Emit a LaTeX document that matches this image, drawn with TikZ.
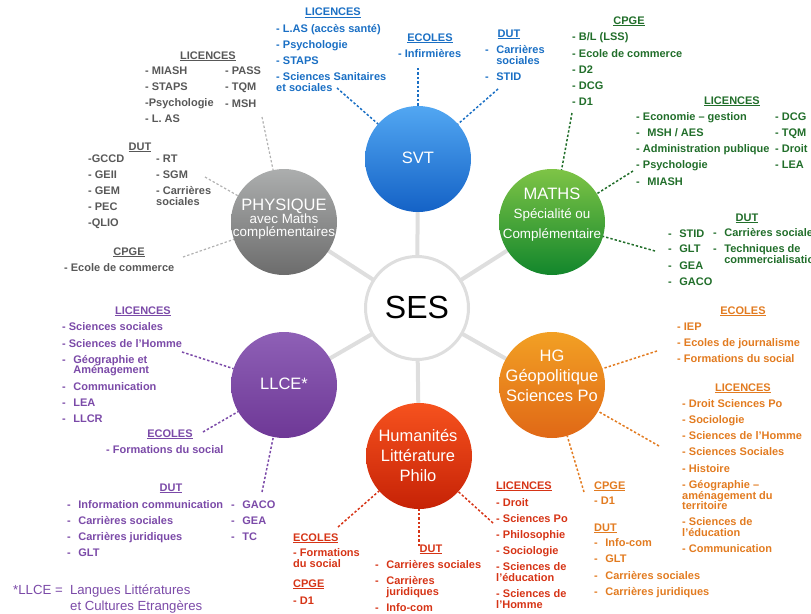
\documentclass[tikz,border=0pt]{standalone}
\usepackage{fontspec}
\setmainfont{Liberation Sans}
\definecolor{cgray}{RGB}{88,88,88}
\definecolor{cgrayline}{RGB}{178,178,178}
\definecolor{cblue}{RGB}{26,111,196}
\definecolor{cgreen}{RGB}{33,110,42}
\definecolor{cpurple}{RGB}{123,74,168}
\definecolor{corange}{RGB}{226,123,32}
\definecolor{cred}{RGB}{214,52,22}
\definecolor{spokegray}{RGB}{222,222,222}
\newcommand{\dd}{-\hspace{7.5pt}}
\newcommand{\itemcol}[4]{\foreach \yy/\lbl [count=\i] in {#4} {\node[item,text=#3] (#1-\i) at (#2,\yy) {\lbl};}}
\begin{document}
\begin{tikzpicture}[x=1pt,y=-1pt,
  item/.style={anchor=base west, inner sep=0pt, font=\fontsize{11}{12}\selectfont\bfseries},
  head/.style={anchor=base, inner sep=0pt, font=\fontsize{11}{12}\selectfont\bfseries},
  conn/.style={line width=1.5pt, dash pattern=on 2.4pt off 2pt},
  spoke/.style={line width=4pt, draw=spokegray},
  bub/.style={circle, minimum size=106pt, inner sep=0pt, outer sep=0pt},
  ctext/.style={anchor=base, text=white, inner sep=0pt, font=\fontsize{16.5}{18}\selectfont},
  csub/.style={anchor=base, text=white, inner sep=0pt, font=\fontsize{13.4}{14}\selectfont},
  foot/.style={anchor=base west, inner sep=0pt, text=cpurple, font=\fontsize{13.2}{14}\selectfont}]
\useasboundingbox (0,0) rectangle (811,613);
% centres
\coordinate (cses) at (417,308);
\coordinate (csvt) at (418,159);
\coordinate (cphys) at (284,222);
\coordinate (cmaths) at (552,222);
\coordinate (cllce) at (284,385);
\coordinate (chg) at (552,385);
\coordinate (chum) at (419,456);
% spokes
\foreach \c in {csvt,cphys,cmaths,cllce,chg,chum} {\draw[spoke] (cses) -- (\c);}
% circles
\node[bub, fill=white, draw=spokegray, line width=3pt, minimum size=103pt] (ses) at (cses) {};
\node[bub, top color={rgb,255:red,82;green,167;blue,242}, bottom color={rgb,255:red,20;green,98;blue,198}] (svt) at (csvt) {};
\node[bub, top color={rgb,255:red,172;green,174;blue,174}, bottom color={rgb,255:red,108;green,108;blue,108}] (phys) at (cphys) {};
\node[bub, top color={rgb,255:red,126;green,196;blue,70}, bottom color={rgb,255:red,18;green,134;blue,44}] (maths) at (cmaths) {};
\node[bub, top color={rgb,255:red,142;green,96;blue,182}, bottom color={rgb,255:red,110;green,56;blue,150}] (llce) at (cllce) {};
\node[bub, top color={rgb,255:red,242;green,160;blue,36}, bottom color={rgb,255:red,224;green,104;blue,22}] (hg) at (chg) {};
\node[bub, top color={rgb,255:red,246;green,82;blue,30}, bottom color={rgb,255:red,198;green,34;blue,6}] (hum) at (chum) {};
% circle texts
\node[anchor=base, inner sep=0pt, font=\fontsize{32}{36}\selectfont] (sesT) at (417,318) {SES};
\node[ctext] (svtT) at (418,163.5) {SVT};
\node[ctext] (physT1) at (284,210) {PHYSIQUE};
\node[csub] (physT2) at (284,223) {avec Maths};
\node[csub] (physT3) at (284,236) {complémentaires};
\node[ctext] (mathsT1) at (552,199) {MATHS};
\node[csub] (mathsT2) at (552,218.5) {Spécialité ou};
\node[csub] (mathsT3) at (552,238) {Complémentaire};
\node[ctext] (llceT) at (284,389) {LLCE*};
\node[ctext] (hgT1) at (552,361) {HG};
\node[ctext] (hgT2) at (552,381) {Géopolitique};
\node[ctext] (hgT3) at (552,401) {Sciences Po};
\node[ctext] (humT1) at (418,441) {Humanités};
\node[ctext] (humT2) at (418,461) {Littérature};
\node[ctext] (humT3) at (418,481) {Philo};
% ---- PHYSIQUE (gray)
\node[head,text=cgray] (gLh) at (208,59) {\underline{LICENCES}};
\itemcol{gLa}{145}{cgray}{74/- MIASH, 90/- STAPS, 106/-Psychologie, 122/- L. AS}
\itemcol{gLb}{225}{cgray}{74/- PASS, 90/- TQM, 107/- MSH}
\node[head,text=cgray] (gDh) at (140,150) {\underline{DUT}};
\itemcol{gDa}{88}{cgray}{162/-GCCD, 178/- GEII, 194/- GEM, 210/- PEC, 226/-QLIO}
\itemcol{gDb}{156}{cgray}{162/- RT, 178/- SGM, 194/- Carrières, 205/sociales}
\node[head,text=cgray] (gCh) at (129,255) {\underline{CPGE}};
\itemcol{gCa}{64}{cgray}{271/- Ecole de commerce}
\coordinate (gLe) at (262,117);
\coordinate (gDe) at (205,177);
\coordinate (gCe) at (183,257);
\foreach \e in {gLe,gDe,gCe} {\draw[conn,cgrayline,line width=1.2pt] (\e) -- (phys);}
% ---- SVT (blue)
\node[head,text=cblue] (bLh) at (333,16) {\underline{LICENCES}};
\itemcol{bL}{276}{cblue}{32/- L.AS (accès santé), 48/- Psychologie, 64/- STAPS, 80/- Sciences Sanitaires, 91/et sociales}
\node[head,text=cblue] (bEh) at (430,41) {\underline{ECOLES}};
\itemcol{bE}{398}{cblue}{57/- Infirmières}
\node[head,text=cblue] (bDh) at (509,37) {\underline{DUT}};
\itemcol{bD}{485}{cblue}{53/\dd Carrières, 64/\phantom{\dd}sociales, 80/\dd STID}
\coordinate (bLe) at (337,88);
\coordinate (bEe) at (418,68);
\coordinate (bDe) at (498,89);
\foreach \e in {bLe,bEe,bDe} {\draw[conn,cblue] (\e) -- (svt);}
% ---- MATHS (green)
\node[head,text=cgreen] (mCh) at (629,24) {\underline{CPGE}};
\itemcol{mC}{572}{cgreen}{40/{- B/L (LSS)}, 57/- Ecole de commerce, 73/- D2, 89/- DCG, 105/- D1}
\node[head,text=cgreen] (mLh) at (732,104) {\underline{LICENCES}};
\itemcol{mLa}{636}{cgreen}{120/- Economie – gestion, 136/{\dd MSH / AES}, 152/- Administration publique, 168/- Psychologie, 185/\dd MIASH}
\itemcol{mLb}{775}{cgreen}{120/- DCG, 136/- TQM, 152/- Droit, 168/- LEA}
\node[head,text=cgreen] (mDh) at (747,221) {\underline{DUT}};
\itemcol{mDa}{668}{cgreen}{237/\dd STID, 252/\dd GLT, 269/\dd GEA, 285/\dd GACO}
\itemcol{mDb}{713}{cgreen}{236/\dd Carrières sociales, 252/\dd Techniques de, 263/\phantom{\dd}commercialisation}
\coordinate (mCe) at (572,113);
\coordinate (mLe) at (633,171);
\coordinate (mDe) at (655,251);
\foreach \e in {mCe,mLe,mDe} {\draw[conn,cgreen] (\e) -- (maths);}
% ---- LLCE (purple)
\node[head,text=cpurple] (pLh) at (143,314) {\underline{LICENCES}};
\itemcol{pL}{62}{cpurple}{330/- Sciences sociales, 347/- Sciences de l’Homme, 363/\dd Géographie et, 373/\phantom{\dd}Aménagement, 390/\dd Communication, 406/\dd LEA, 422/\dd LLCR}
\node[head,text=cpurple] (pEh) at (170,437) {\underline{ECOLES}};
\itemcol{pE}{106}{cpurple}{453/- Formations du social}
\node[head,text=cpurple] (pDh) at (171,491) {\underline{DUT}};
\itemcol{pDa}{67}{cpurple}{508/\dd Information communication, 524/\dd Carrières sociales, 540/\dd Carrières juridiques, 556/\dd GLT}
\itemcol{pDb}{231}{cpurple}{508/\dd GACO, 524/\dd GEA, 540/\dd TC}
\coordinate (pLe) at (182,352);
\coordinate (pEe) at (203,432);
\coordinate (pDe) at (262,492);
\foreach \e in {pLe,pEe,pDe} {\draw[conn,cpurple] (\e) -- (llce);}
\node[foot] (fn1) at (13,594) {*LLCE =\ \ Langues Littératures};
\node[foot] (fn2) at (70,610) {et Cultures Etrangères};
% ---- Humanites (red)
\itemcol{rE}{293}{cred}{541/\underline{ECOLES}, 556/- Formations, 567/du social, 587/\underline{CPGE}, 604/- D1}
\node[head,text=cred] (rDh) at (431,552) {\underline{DUT}};
\itemcol{rD}{375}{cred}{568/\dd Carrières sociales, 584/\dd Carrières, 595/\phantom{\dd}juridiques, 611/\dd Info-com}
\itemcol{rL}{496}{cred}{489/\underline{LICENCES}, 506/- Droit, 522/- Sciences Po, 538/- Philosophie, 554/- Sociologie, 570/- Sciences de, 581/l’éducation, 597/- Sciences de, 608/l’Homme}
\coordinate (rEe) at (338,527);
\coordinate (rDe) at (419,546);
\coordinate (rLe) at (493,523);
\foreach \e in {rEe,rDe,rLe} {\draw[conn,cred] (\e) -- (hum);}
% ---- HG (orange)
\node[head,text=corange] (oEh) at (743,314) {\underline{ECOLES}};
\itemcol{oE}{677}{corange}{330/- IEP, 346/- Ecoles de journalisme, 362/- Formations du social}
\node[head,text=corange] (oLh) at (743,391) {\underline{LICENCES}};
\itemcol{oL}{682}{corange}{407/- Droit Sciences Po, 423/- Sociologie, 439/- Sciences de l’Homme, 455/- Sciences Sociales, 472/- Histoire, 488/- Géographie –, 499/aménagement du, 509/territoire, 525/- Sciences de, 536/l’éducation, 552/- Communication}
\itemcol{oC}{594}{corange}{489/\underline{CPGE}, 504/- D1, 531/\underline{DUT}, 546/\dd Info-com, 562/\dd GLT, 579/\dd Carrières sociales, 595/\dd Carrières juridiques}
\coordinate (oEe) at (657,351);
\coordinate (oLe) at (659,446);
\coordinate (oCe) at (584,492);
\foreach \e in {oEe,oLe,oCe} {\draw[conn,corange] (\e) -- (hg);}
\end{tikzpicture}
\end{document}
